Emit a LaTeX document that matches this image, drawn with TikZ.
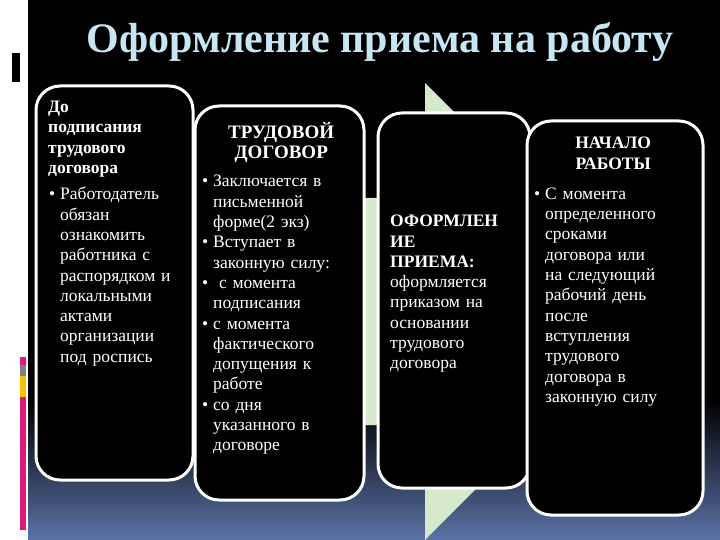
\documentclass[tikz,border=0pt]{standalone}
\usepackage{fontspec}
\setmainfont{Liberation Serif}
\usepackage{enumitem}
\definecolor{bgblue}{HTML}{5A72A6}
\definecolor{arrowgreen}{HTML}{D7E9CD}
\definecolor{titlecol}{HTML}{C6E6F4}
\definecolor{magbar}{HTML}{E0197F}
\definecolor{yelbar}{HTML}{F2C200}
\tikzset{
  card/.style={draw=white, line width=3pt, fill=black, rounded corners=24pt},
  txt/.style={text=white, anchor=north west, inner sep=0pt, font=\fontsize{17.5}{20.3}\selectfont},
}
\newcommand{\blist}[1]{\begin{itemize}[leftmargin=12pt,itemsep=0pt,parsep=0pt,topsep=0pt,label=\textbullet]#1\end{itemize}}
\begin{document}
\begin{tikzpicture}[x=1pt,y=-1pt]
\useasboundingbox (0,0) rectangle (720,540);
% background
\fill[black] (0,0) rectangle (720,400);
\shade[top color=black, bottom color=bgblue] (0,399.5) rectangle (720,540);
\fill[white] (0,0) rectangle (28,540);
\fill[black] (12,53) rectangle (20,82);
\fill[magbar] (20,357) rectangle (26,365);
\fill[gray] (20,365) rectangle (26,376);
\fill[yelbar] (20,376) rectangle (26,397);
\fill[magbar] (20,397) rectangle (26,530);
% title
\node[text=titlecol, font=\bfseries\fontsize{42}{44}\selectfont] (title) at (380,42) {Оформление приема на работу};
% process arrow
\fill[arrowgreen] (200,198) -- (425,198) -- (425,83) -- (653,311) -- (425,540) -- (425,425) -- (200,425) -- cycle;
% cards
\draw[card] (36,86) rectangle (193,480);
\draw[card] (195,106) rectangle (364,500);
\draw[card] (378,113) rectangle (530,488);
\draw[card] (527,121) rectangle (703,515);
% texts
\node[txt, text width=140pt] (t1) at (48,101) {\textbf{До\\подписания\\трудового\\договора}\par\vspace{4pt}
\blist{\item Работодатель\\обязан\\ознакомить\\работника с\\распорядком и\\локальными\\актами\\организации\\под роспись}};
\node[txt, text width=160pt] (t2) at (201,122) {\centering\textbf{\fontsize{19}{22}\selectfont ТРУДОВОЙ\\ДОГОВОР}\par\vspace{6pt}\raggedright
\blist{\item Заключается в\\письменной\\форме(2 экз)
\item Вступает в\\законную силу:
\item \ с момента\\подписания
\item с момента\\фактического\\допущения к\\работе
\item со дня\\указанного в\\договоре}};
\node[txt, text width=140pt] (t3) at (390,215) {\textbf{ОФОРМЛЕН\\ИЕ\\ПРИЕМА:}\\оформляется\\приказом на\\основании\\трудового\\договора};
\node[txt, text width=160pt] (t4) at (533,137) {\centering\textbf{НАЧАЛО\\РАБОТЫ}\par\vspace{8pt}\raggedright
\blist{\item С момента\\определенного\\сроками\\договора или\\на следующий\\рабочий день\\после\\вступления\\трудового\\договора в\\законную силу}};
\end{tikzpicture}
\end{document}
